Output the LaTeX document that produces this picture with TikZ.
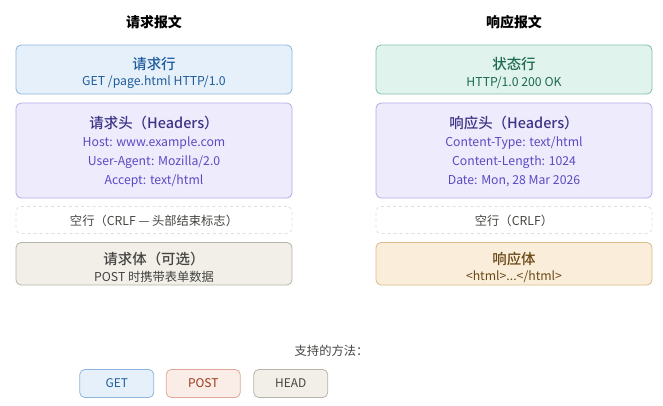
\documentclass[tikz,border=0pt]{standalone}
\usepackage{fontspec}
\setmainfont{Noto Sans CJK SC}
\newfontfamily\medfont{Noto Sans CJK SC Medium}
\usepackage{tikz}

\definecolor{lineblue}{HTML}{E6F0FA}
\definecolor{lineblueB}{HTML}{8DB5DD}
\definecolor{lineblueT}{HTML}{1F5C9C}
\definecolor{okgreen}{HTML}{E0F3EC}
\definecolor{okgreenB}{HTML}{80C1A7}
\definecolor{okgreenT}{HTML}{1D6A4E}
\definecolor{hdrpurple}{HTML}{EEEBFC}
\definecolor{hdrpurpleB}{HTML}{B6AAE8}
\definecolor{hdrpurpleT}{HTML}{3C3487}
\definecolor{hdrpurpleL}{HTML}{5A4AC2}
\definecolor{bodygray}{HTML}{F1EFE8}
\definecolor{bodygrayB}{HTML}{B7B4AC}
\definecolor{bodygrayT}{HTML}{454441}
\definecolor{bodytan}{HTML}{FAEEDB}
\definecolor{bodytanB}{HTML}{D9BB8C}
\definecolor{bodytanT}{HTML}{6A4716}
\definecolor{postred}{HTML}{FAEDE8}
\definecolor{postredB}{HTML}{E0A897}
\definecolor{postredT}{HTML}{983A18}
\definecolor{dashgray}{HTML}{DEDEDE}

\tikzset{
  part/.style={rounded corners=5bp, line width=0.8bp, minimum width=276bp, inner sep=0pt},
  btn/.style={rounded corners=5bp, line width=0.8bp, minimum width=74bp, minimum height=28bp, font=\fontsize{12}{14}\selectfont},
  title/.style={font=\fontsize{14}{16}\selectfont\bfseries},
  head/.style={font=\fontsize{14.5}{16}\selectfont\medfont},
  sub/.style={font=\fontsize{12.3}{14}\selectfont}
}

\begin{document}
\begin{tikzpicture}[x=1bp,y=-1bp]
    \useasboundingbox (0,0) rectangle (663,405);

    % request
    \node[title] (reqtitle) at (154,22) {请求报文};
    \node[part, fill=lineblue, draw=lineblueB, minimum height=49bp] (reqline) at (154,69.5) {};
    \node[head, text=lineblueT] (reqlineA) at (154,64) {请求行};
    \node[sub, text=lineblueT] (reqlineB) at (154,82.5) {GET /page.html HTTP/1.0};

    \node[part, fill=hdrpurple, draw=hdrpurpleB, minimum height=95bp] (reqhdr) at (154,150.5) {};
    \node[head, text=hdrpurpleT] (reqhdrA) at (154,123) {请求头（Headers）};
    \node[sub, text=hdrpurpleL] (reqhdrB) at (154,143.5) {Host: www.example.com};
    \node[sub, text=hdrpurpleL] (reqhdrC) at (154,162.5) {User-Agent: Mozilla/2.0};
    \node[sub, text=hdrpurpleL] (reqhdrD) at (154,181.5) {Accept: text/html};

    \node[part, draw=dashgray, dashed, minimum height=27bp] (reqcrlf) at (154,220) {};
    \node[sub, text=bodygrayT] (reqcrlfA) at (154,221) {空行（CRLF — 头部结束标志）};

    \node[part, fill=bodygray, draw=bodygrayB, minimum height=42.5bp] (reqbody) at (154,263.75) {};
    \node[head, text=bodygrayT] (reqbodyA) at (154,259) {请求体（可选）};
    \node[sub, text=bodygrayT] (reqbodyB) at (154,277) {POST 时携带表单数据};

    % response
    \node[title] (restitle) at (514,22) {响应报文};
    \node[part, fill=okgreen, draw=okgreenB, minimum height=49bp] (resline) at (514,69.5) {};
    \node[head, text=okgreenT] (reslineA) at (514,64) {状态行};
    \node[sub, text=okgreenT] (reslineB) at (514,82.5) {HTTP/1.0 200 OK};

    \node[part, fill=hdrpurple, draw=hdrpurpleB, minimum height=95bp] (reshdr) at (514,150.5) {};
    \node[head, text=hdrpurpleT] (reshdrA) at (514,123) {响应头（Headers）};
    \node[sub, text=hdrpurpleL] (reshdrB) at (514,143.5) {Content-Type: text/html};
    \node[sub, text=hdrpurpleL] (reshdrC) at (514,162.5) {Content-Length: 1024};
    \node[sub, text=hdrpurpleL] (reshdrD) at (514,181.5) {Date: Mon, 28 Mar 2026};

    \node[part, draw=dashgray, dashed, minimum height=27bp] (rescrlf) at (514,220) {};
    \node[sub, text=bodygrayT] (rescrlfA) at (514,221) {空行（CRLF）};

    \node[part, fill=bodytan, draw=bodytanB, minimum height=42.5bp] (resbody) at (514,263.75) {};
    \node[head, text=bodytanT] (resbodyA) at (514,259) {响应体};
    \node[sub, text=bodytanT] (resbodyB) at (514,277) {<html>...</html>};

    % methods
    \node[sub, text=bodygrayT] (methods) at (331.5,351) {支持的方法：};
    \node[btn, fill=lineblue, draw=lineblueB, text=lineblueT] (get) at (116.75,383.5) {GET};
    \node[btn, fill=postred, draw=postredB, text=postredT] (post) at (203.25,383.5) {POST};
    \node[btn, fill=bodygray, draw=bodygrayB, text=bodygrayT] (headm) at (290.75,383.5) {HEAD};
\end{tikzpicture}
\end{document}
